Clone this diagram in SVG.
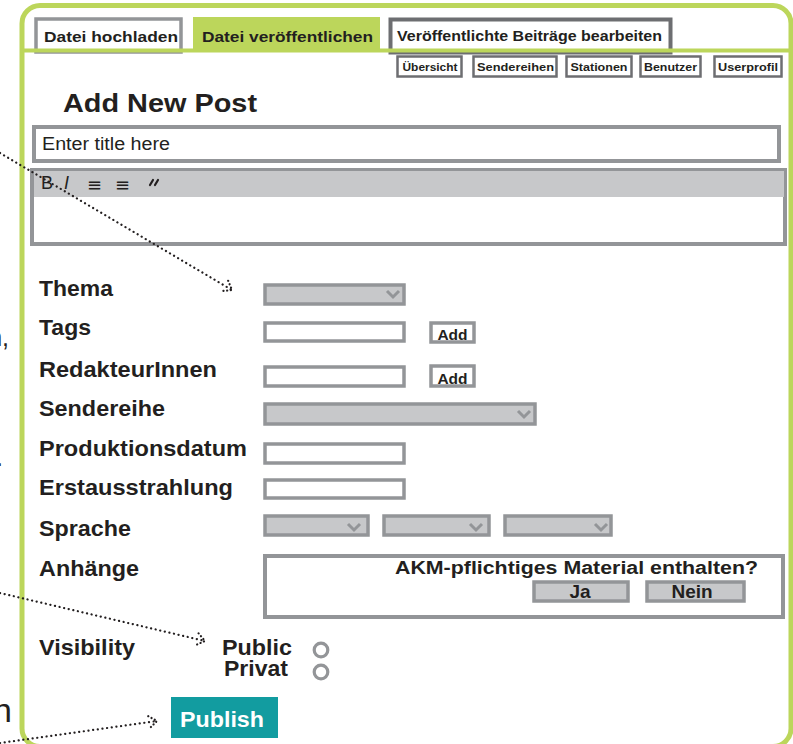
<svg xmlns="http://www.w3.org/2000/svg" width="793" height="744" viewBox="0 0 793 744">
<defs>
<style>
text{font-family:"Liberation Sans",Arial,sans-serif;fill:#231f20}
.b{font-weight:bold}
.lbl{font-weight:bold;font-size:21.5px}
.inp{fill:#fff;stroke:#939598;stroke-width:3.5}
.sel{fill:#c7c8ca;stroke:#939598;stroke-width:3.5}
.chev{fill:none;stroke:#939598;stroke-width:3}
.sub{fill:#fff;stroke:#6d6e71;stroke-width:2.5}
.subt{font-weight:bold;font-size:11px;text-anchor:middle}
.dot{fill:none;stroke:#231f20;stroke-width:2.2;stroke-linecap:round;stroke-dasharray:0.1 4.6}
</style>
<marker id="ah" markerUnits="userSpaceOnUse" markerWidth="16" markerHeight="16" refX="10" refY="8" orient="auto">
<path d="M2,2 L10,8 L2,14" fill="none" stroke="#231f20" stroke-width="2.2" stroke-linecap="round" stroke-dasharray="0.1 3.6"/>
</marker>
</defs>
<rect width="793" height="744" fill="#fff"/>

<g id="frame">
<rect x="22" y="5.5" width="769" height="741" rx="18" fill="none" stroke="#bcd65b" stroke-width="5"/>
</g>

<g id="tab-hochladen">
<rect x="36" y="19" width="145" height="33" fill="#fff" stroke="#939598" stroke-width="3.5"/>
<text x="44" y="41.5" class="b" font-size="15.5" textLength="134" lengthAdjust="spacingAndGlyphs">Datei hochladen</text>
</g>
<g id="tab-veroeffentlichen">
<rect x="193" y="17" width="187" height="34" fill="#bcd65b"/>
<text x="202" y="41.5" class="b" font-size="15.5" textLength="171" lengthAdjust="spacingAndGlyphs">Datei veröffentlichen</text>
</g>
<g id="tab-bearbeiten">
<rect x="390.5" y="19.5" width="280" height="33" fill="#fff" stroke="#6d6e71" stroke-width="4"/>
<text x="397" y="41" class="b" font-size="15.5" textLength="265" lengthAdjust="spacingAndGlyphs">Veröffentlichte Beiträge bearbeiten</text>
</g>
<g id="tabline">
<line x1="20" y1="50.5" x2="791" y2="50.5" stroke="#bcd65b" stroke-width="4"/>
</g>

<g id="sub-uebersicht"><rect class="sub" x="397.5" y="56.5" width="64" height="20"/><text class="subt" x="430" y="70.5" textLength="55" lengthAdjust="spacingAndGlyphs">Übersicht</text></g>
<g id="sub-sendereihen"><rect class="sub" x="473.5" y="56.5" width="83" height="20"/><text class="subt" x="515.5" y="70.5" textLength="77" lengthAdjust="spacingAndGlyphs">Sendereihen</text></g>
<g id="sub-stationen"><rect class="sub" x="566.5" y="56.5" width="65" height="20"/><text class="subt" x="599" y="70.5" textLength="57" lengthAdjust="spacingAndGlyphs">Stationen</text></g>
<g id="sub-benutzer"><rect class="sub" x="640.5" y="56.5" width="60" height="20"/><text class="subt" x="670.5" y="70.5" textLength="53" lengthAdjust="spacingAndGlyphs">Benutzer</text></g>
<g id="sub-userprofil"><rect class="sub" x="714.5" y="56.5" width="67" height="20"/><text class="subt" x="748" y="70.5" textLength="60" lengthAdjust="spacingAndGlyphs">Userprofil</text></g>

<g id="heading">
<text x="63" y="112" class="b" font-size="26.5" textLength="194" lengthAdjust="spacingAndGlyphs">Add New Post</text>
</g>

<g id="title-input">
<rect x="34" y="127" width="745" height="34" fill="#fff" stroke="#939598" stroke-width="4"/>
<text x="42" y="150" font-size="18" textLength="128" lengthAdjust="spacingAndGlyphs">Enter title here</text>
</g>

<g id="editor">
<rect x="32" y="170" width="753" height="74" fill="#fff" stroke="#939598" stroke-width="4"/>
<rect x="34" y="171" width="750" height="26" fill="#c7c8ca"/>
<text x="41" y="188.5" font-size="18">B</text>
<text x="64" y="188.5" font-size="18" font-style="italic">I</text>
<text x="87" y="191" font-size="18" style="font-family:'DejaVu Sans',sans-serif">≡</text>
<text x="115" y="191" font-size="18" style="font-family:'DejaVu Sans',sans-serif">≡</text>
<path d="M150,185 L153,180 M155,185 L158,180" stroke="#231f20" stroke-width="2.2" stroke-linecap="round"/>
</g>

<g id="thema">
<text class="lbl" x="39" y="296" textLength="74" lengthAdjust="spacingAndGlyphs">Thema</text>
<rect class="sel" x="265" y="285" width="139" height="19"/>
<polyline class="chev" points="387,291 393,297 399,291"/>
</g>
<g id="tags">
<text class="lbl" x="39" y="335" textLength="52" lengthAdjust="spacingAndGlyphs">Tags</text>
<rect class="inp" x="265" y="323" width="139" height="18"/>
<rect class="inp" x="431" y="323" width="43" height="19"/>
<text x="452.5" y="339.5" class="b" font-size="15.5" text-anchor="middle">Add</text>
</g>
<g id="redakteurinnen">
<text class="lbl" x="39" y="377" textLength="178" lengthAdjust="spacingAndGlyphs">RedakteurInnen</text>
<rect class="inp" x="265" y="367" width="139" height="19"/>
<rect class="inp" x="431" y="366" width="43" height="20"/>
<text x="452.5" y="383.5" class="b" font-size="15.5" text-anchor="middle">Add</text>
</g>
<g id="sendereihe">
<text class="lbl" x="39" y="416" textLength="126" lengthAdjust="spacingAndGlyphs">Sendereihe</text>
<rect class="sel" x="265" y="404" width="270" height="20"/>
<polyline class="chev" points="518,411 524,417 530,411"/>
</g>
<g id="produktionsdatum">
<text class="lbl" x="39" y="456" textLength="208" lengthAdjust="spacingAndGlyphs">Produktionsdatum</text>
<rect class="inp" x="265" y="444" width="139" height="19"/>
</g>
<g id="erstausstrahlung">
<text class="lbl" x="39" y="495" textLength="194" lengthAdjust="spacingAndGlyphs">Erstausstrahlung</text>
<rect class="inp" x="265" y="480" width="139" height="18"/>
</g>
<g id="sprache">
<text class="lbl" x="39" y="535.5" textLength="92" lengthAdjust="spacingAndGlyphs">Sprache</text>
<rect class="sel" x="265" y="516" width="103" height="19"/>
<polyline class="chev" points="348,524 354,530 360,524"/>
<rect class="sel" x="384" y="516" width="105" height="19"/>
<polyline class="chev" points="470,524 476,530 482,524"/>
<rect class="sel" x="505" y="516" width="106" height="19"/>
<polyline class="chev" points="595,524 601,530 607,524"/>
</g>
<g id="anhaenge">
<text class="lbl" x="39" y="576" textLength="100" lengthAdjust="spacingAndGlyphs">Anhänge</text>
<rect x="265" y="556" width="518" height="61" fill="#fff" stroke="#939598" stroke-width="4"/>
<text x="395" y="573.5" class="b" font-size="18" textLength="363" lengthAdjust="spacingAndGlyphs">AKM-pflichtiges Material enthalten?</text>
<rect class="sel" x="534" y="582" width="94" height="19"/>
<text x="580" y="598" class="b" font-size="19" text-anchor="middle">Ja</text>
<rect class="sel" x="647" y="582" width="97" height="19"/>
<text x="692" y="598" class="b" font-size="19" text-anchor="middle">Nein</text>
</g>
<g id="visibility">
<text class="lbl" x="39" y="655" textLength="96" lengthAdjust="spacingAndGlyphs">Visibility</text>
<text x="257" y="654.5" class="b" font-size="21.5" text-anchor="middle" textLength="70" lengthAdjust="spacingAndGlyphs">Public</text>
<text x="256" y="676" class="b" font-size="21.5" text-anchor="middle" textLength="64" lengthAdjust="spacingAndGlyphs">Privat</text>
<circle cx="321" cy="650" r="6.8" fill="#fff" stroke="#939598" stroke-width="3.2"/>
<circle cx="321" cy="672" r="6.8" fill="#fff" stroke="#939598" stroke-width="3.2"/>
</g>
<g id="publish">
<rect x="171" y="697" width="107" height="41" fill="#129ca0"/>
<text x="222" y="727" class="b" font-size="22.5" text-anchor="middle" style="fill:#fff" textLength="84" lengthAdjust="spacingAndGlyphs">Publish</text>
</g>

<g id="edge-fragments">
<text x="9" y="346" font-size="25" text-anchor="end">n,</text>
<text x="3" y="466" font-size="25" text-anchor="end">.</text>
<text x="12" y="722" font-size="34" text-anchor="end">n</text>
</g>

<g id="connectors">
<line class="dot" x1="0" y1="153" x2="232" y2="290" marker-end="url(#ah)"/>
<line class="dot" x1="0" y1="593" x2="205" y2="641" marker-end="url(#ah)"/>
<line class="dot" x1="0" y1="743" x2="157" y2="721" marker-end="url(#ah)"/>
</g>
</svg>
